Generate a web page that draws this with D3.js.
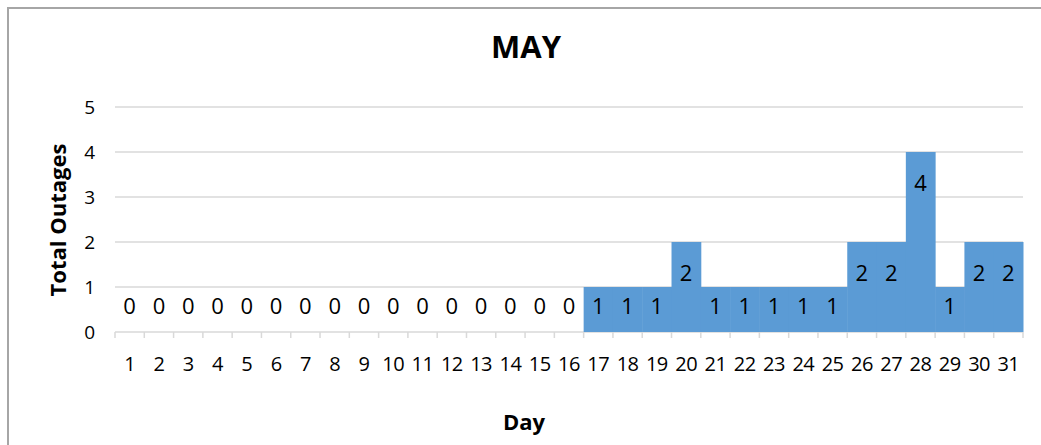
<!DOCTYPE html>
<html>
<head>
<meta charset="utf-8">
<script src="https://cdn.jsdelivr.net/npm/d3@7"></script>
<style>
  body { margin: 0; background: #fff; }
  svg { display: block; font-family: "Open Sans", sans-serif; }
</style>
</head>
<body>
<script>
const days = d3.range(1, 32).map(String);
const outages = [0, 0, 0, 0, 0, 0, 0, 0, 0, 0, 0, 0, 0, 0, 0, 0,
                 1, 1, 1, 2, 1, 1, 1, 1, 1, 2, 2, 4, 1, 2, 2];
const yTicks = [0, 1, 2, 3, 4, 5];

const width = 1041, height = 445;
const margin = { top: 107, right: 18, bottom: 113, left: 115 };

const svg = d3.select('body').append('svg')
    .attr('width', width)
    .attr('height', height);

// chart frame (only top and left edges visible in the crop)
svg.append('path')
    .attr('d', `M8,${height} V8 H${width}`)
    .attr('fill', 'none')
    .attr('stroke', '#a6a6a6')
    .attr('stroke-width', 2);

const x = d3.scaleBand()
    .domain(days)
    .range([margin.left, width - margin.right])
    .padding(0);

const y = d3.scaleLinear()
    .domain([0, 5])
    .range([height - margin.bottom, margin.top]);

// gridlines
svg.append('g')
    .selectAll('line')
    .data(yTicks)
    .enter()
    .append('line')
    .attr('x1', margin.left)
    .attr('x2', width - margin.right)
    .attr('y1', (d) => y(d))
    .attr('y2', (d) => y(d))
    .attr('stroke', '#d9d9d9')
    .attr('stroke-width', 1.5);

// x tick marks at band edges
const edges = days.map((d) => x(d)).concat([width - margin.right]);
svg.append('g')
    .selectAll('line')
    .data(edges)
    .enter()
    .append('line')
    .attr('x1', (d) => d)
    .attr('x2', (d) => d)
    .attr('y1', y(0))
    .attr('y2', y(0) + 6)
    .attr('stroke', '#d9d9d9')
    .attr('stroke-width', 1.5);

// bars
svg.append('g')
    .selectAll('rect')
    .data(outages)
    .enter()
    .append('rect')
    .attr('x', (d, i) => x(days[i]))
    .attr('y', (d) => y(d))
    .attr('width', x.bandwidth() + 0.5)
    .attr('height', (d) => y(0) - y(d))
    .attr('fill', '#5b9bd5');

// data labels (inside end, pushed up when the bar is short)
svg.append('g')
    .selectAll('text')
    .data(outages)
    .enter()
    .append('text')
    .attr('x', (d, i) => x(days[i]) + x.bandwidth() / 2)
    .attr('y', (d) => Math.min(y(d) + 31, y(0) - 26))
    .attr('dy', '0.35em')
    .attr('text-anchor', 'middle')
    .attr('font-size', 22)
    .attr('fill', '#000')
    .text((d) => d);

// y tick labels
svg.append('g')
    .selectAll('text')
    .data(yTicks)
    .enter()
    .append('text')
    .attr('x', margin.left - 20)
    .attr('y', (d) => y(d))
    .attr('dy', '0.35em')
    .attr('text-anchor', 'end')
    .attr('font-size', 19)
    .attr('fill', '#000')
    .text((d) => d);

// x tick labels
svg.append('g')
    .selectAll('text')
    .data(days)
    .enter()
    .append('text')
    .attr('x', (d) => x(d) + x.bandwidth() / 2)
    .attr('y', y(0) + 32)
    .attr('dy', '0.35em')
    .attr('text-anchor', 'middle')
    .attr('font-size', 20)
    .attr('letter-spacing', -0.5)
    .attr('fill', '#000')
    .text((d) => d);

// titles
svg.append('text')
    .attr('x', 526)
    .attr('y', 58)
    .attr('text-anchor', 'middle')
    .attr('font-size', 31)
    .attr('font-weight', 'bold')
    .text('MAY');

svg.append('text')
    .attr('x', 524)
    .attr('y', 430)
    .attr('text-anchor', 'middle')
    .attr('font-size', 22)
    .attr('font-weight', 'bold')
    .text('Day');

svg.append('text')
    .attr('transform', 'translate(66,220) rotate(-90)')
    .attr('text-anchor', 'middle')
    .attr('font-size', 22)
    .attr('font-weight', 'bold')
    .text('Total Outages');
</script>
</body>
</html>
